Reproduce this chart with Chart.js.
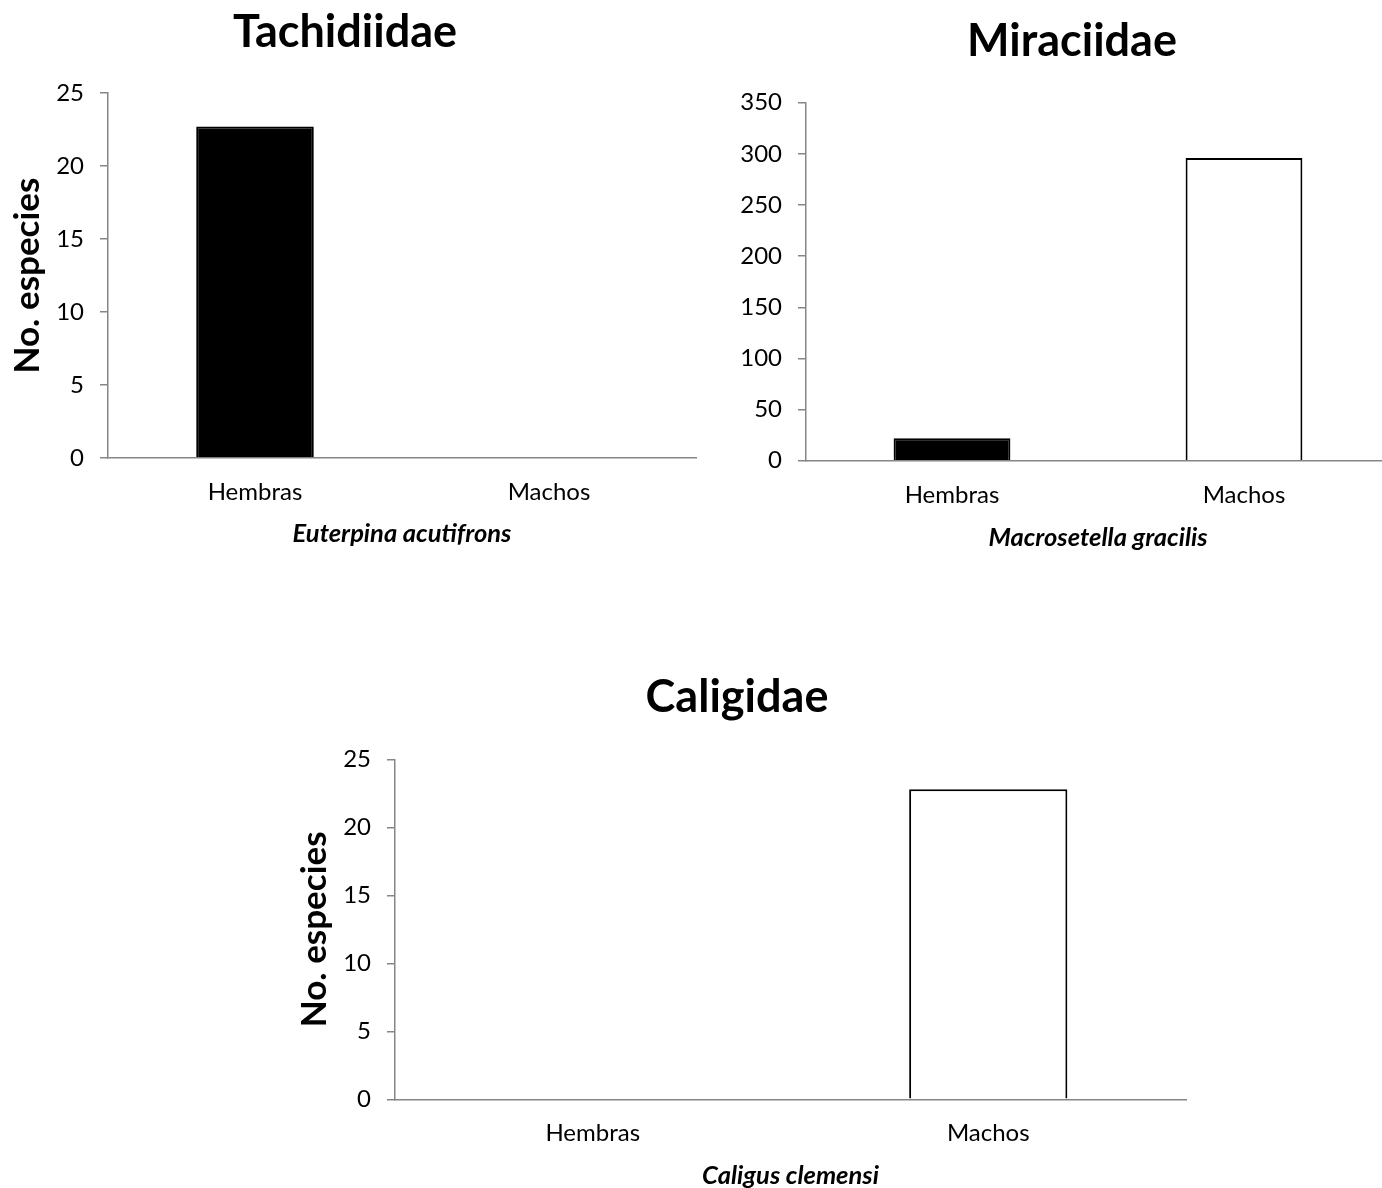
<!DOCTYPE html>
<html>
<head>
<meta charset="utf-8">
<script src="https://cdn.jsdelivr.net/npm/chart.js@4"></script>
<style>
    body { margin: 0; width: 1382px; height: 1188px; overflow: hidden; background: #fff; }
    #wrap { position: relative; width: 1382px; height: 1188px; }
    canvas { position: absolute; }
</style>
</head>
<body>
<div id="wrap">
    <canvas id="chartTachidiidae" width="700" height="560" style="left:0px; top:0px;"></canvas>
    <canvas id="chartMiraciidae" width="700" height="560" style="left:700px; top:0px;"></canvas>
    <canvas id="chartCaligidae" width="920" height="600" style="left:280px; top:600px;"></canvas>
</div>
<script>
const categories = ['Hembras', 'Machos'];

const tachidiidaeValues = [22.7, 0];
const miraciidaeValues = [22, 296];
const caligidaeValues = [0, 22.8];

// y axis ranges [min, max, step]
const tachidiidaeTicks = [0, 25, 5];
const miraciidaeTicks = [0, 350, 50];
const caligidaeTicks = [0, 25, 5];

const barColors = ['#000000', '#ffffff'];
const axisGray = '#868686';
const fontName = 'Lato';

Chart.defaults.font.family = fontName;
Chart.defaults.color = '#000';

// moves the title block sideways, excel centres titles over the whole chart box
const titleShift = {
    id: 'titleShift',
    afterLayout(chart, args, opts) {
        const t = chart.titleBlock;
        if (t && opts.dx) {
            t.left += opts.dx;
            t.right += opts.dx;
        }
    }
};

renderChart('chartTachidiidae', {
    title: 'Tachidiidae',
    species: 'Euterpina acutifrons',
    values: tachidiidaeValues,
    ticks: tachidiidaeTicks,
    yTitle: 'No. especies',
    padding: { left: 0, right: 4, top: 0, bottom: 0 },
    yWidth: 108,
    xHeight: 102,
    titlePad: { top: 5, bottom: 34 },
    titleDx: -3,
    xTitlePad: 10.7,
    yTitlePad: 7
});

renderChart('chartMiraciidae', {
    title: 'Miraciidae',
    species: 'Macrosetella gracilis',
    values: miraciidaeValues,
    ticks: miraciidaeTicks,
    yTitle: null,
    padding: { left: 0, right: 10, top: 0, bottom: 0 },
    yWidth: 106,
    xHeight: 99.3,
    titlePad: { top: 14, bottom: 34.7 },
    titleDx: 27,
    xTitlePad: 7.2,
    yTitlePad: 0
});

renderChart('chartCaligidae', {
    title: 'Caligidae',
    species: 'Caligus clemensi',
    values: caligidaeValues,
    ticks: caligidaeTicks,
    yTitle: 'No. especies',
    padding: { left: 8, right: 14, top: 0, bottom: 0 },
    yWidth: 107,
    xHeight: 100.7,
    titlePad: { top: 70, bottom: 35.3 },
    titleDx: 0,
    xTitlePad: 8.7,
    yTitlePad: 6
});

function renderChart(id, o) {
    const data = {
        labels: categories,
        datasets: [
            {
                data: o.values,
                backgroundColor: barColors,
                borderColor: '#000000',
                borderWidth: 2,
                borderSkipped: 'start',
                categoryPercentage: 1.0,
                barPercentage: 0.4
            }
        ]
    };
    const config = {
        type: 'bar',
        data: data,
        plugins: [titleShift],
        options: {
            responsive: false,
            animation: false,
            devicePixelRatio: 1,
            layout: { padding: o.padding },
            plugins: {
                legend: { display: false },
                tooltip: { enabled: false },
                titleShift: { dx: o.titleDx },
                title: {
                    display: true,
                    text: o.title,
                    color: '#000',
                    font: { size: 45, weight: 'bold' },
                    padding: o.titlePad
                }
            },
            scales: {
                x: {
                    grid: { display: false, drawTicks: false },
                    border: { display: true, color: axisGray, width: 1.5 },
                    ticks: { padding: 20, color: '#000', font: { size: 24 } },
                    title: {
                        display: true,
                        text: o.species,
                        color: '#000',
                        font: { size: 25.5, weight: 'bold', style: 'italic' },
                        padding: { top: 0, bottom: o.xTitlePad }
                    },
                    afterFit: function (scale) { scale.height = o.xHeight; }
                },
                y: {
                    min: o.ticks[0],
                    max: o.ticks[1],
                    grid: {
                        drawOnChartArea: false,
                        drawTicks: true,
                        tickLength: 8,
                        color: axisGray,
                        lineWidth: 1.5
                    },
                    border: { display: true, color: axisGray, width: 1.5 },
                    ticks: {
                        stepSize: o.ticks[2],
                        padding: 16,
                        color: '#000',
                        font: { size: 24 }
                    },
                    title: {
                        display: !!o.yTitle,
                        text: o.yTitle || '',
                        color: '#000',
                        font: { size: 35, weight: 'bold' },
                        padding: { top: o.yTitlePad, bottom: 0 }
                    },
                    afterFit: function (scale) { scale.width = o.yWidth; }
                }
            }
        }
    };
    new Chart(document.getElementById(id), config);
}
</script>
</body>
</html>
